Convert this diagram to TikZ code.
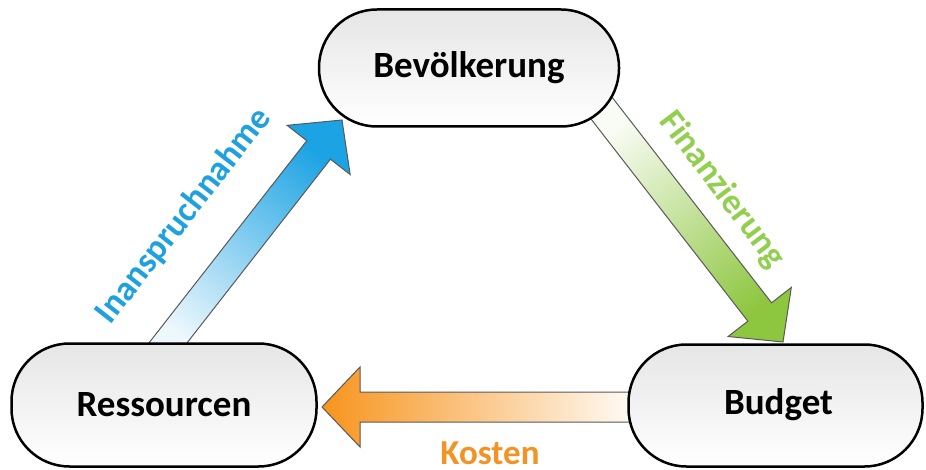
\documentclass[tikz,border=0pt]{standalone}
\usepackage{fontspec}
\setmainfont{Carlito}
\usetikzlibrary{calc,backgrounds}

\definecolor{blueC}{HTML}{1CA3E3}
\definecolor{greenC}{HTML}{8DC63F}
\definecolor{orangeC}{HTML}{F7941D}
\definecolor{blueT}{HTML}{1FA0DF}
\definecolor{greenT}{HTML}{92CF4F}
\definecolor{orangeT}{HTML}{F39325}

\tikzset{
  pill/.style={draw=black, line width=2.5pt, rounded corners=58pt,
    top color=black!10, bottom color=white,
    font=\bfseries\fontsize{37}{42}\selectfont, text=black},
  blockarrow/.style={draw=black!65, line width=1pt, line join=miter},
  lbl/.style={font=\bfseries\fontsize{35}{40}\selectfont, inner sep=0pt}
}

% fat arrow from #1 (tail) to #2 (tip): shaft half width 15, head half width 40, head length 38
\newcommand{\fatarrow}[3]{%
  \path ($(#2)!38pt!(#1)$) coordinate (#2-base);
  \shade[blockarrow, #3]
    ($(#1)!15pt!90:(#2)$) -- ($(#2-base)!15pt!90:(#2)$) --
    ($(#2-base)!40pt!90:(#2)$) -- (#2) --
    ($(#2-base)!40pt!-90:(#2)$) -- ($(#2-base)!15pt!-90:(#2)$) --
    ($(#1)!15pt!-90:(#2)$) -- cycle;
}

\begin{document}
\begin{tikzpicture}[x=1pt, y=-1pt]
\useasboundingbox (0,0) rectangle (926,470);

% the three quantities
\node[pill, minimum width=300pt, minimum height=117pt] (bev) at (469,68) {Bevölkerung};
\node[pill, minimum width=305pt, minimum height=123pt] (res) at (164,405) {Ressourcen};
\node[pill, minimum width=294pt, minimum height=122pt, text depth=7pt] (bud) at (775.5,405.5) {\hspace*{6pt}Budget};

% arrow end points (tails run under the boxes)
\coordinate (blueTail) at (157,357);
\coordinate (blueTip)  at (342,120);
\coordinate (greenTail) at (596,101);
\coordinate (greenTip)  at (783,342);
\coordinate (orangeTail) at (645,407);
\coordinate (orangeTip)  at (322,407);

\begin{scope}[on background layer]
  \fatarrow{blueTail}{blueTip}{top color=blueC, bottom color=blueC!8, shading angle=-38}
  \fatarrow{greenTail}{greenTip}{top color=greenC, bottom color=greenC!5, shading angle=-142}
  \fatarrow{orangeTail}{orangeTip}{top color=orangeC, bottom color=white, shading angle=90}
\end{scope}

% labels
\node[lbl, text=blueT, rotate=52] (lblA) at (184,216) {Inanspruchnahme};
\node[lbl, text=greenT, rotate=-53] (lblB) at (722,190) {Finanzierung};
\node[lbl, text=orangeT, anchor=base] (lblC) at (490,464) {Kosten};
\end{tikzpicture}
\end{document}
